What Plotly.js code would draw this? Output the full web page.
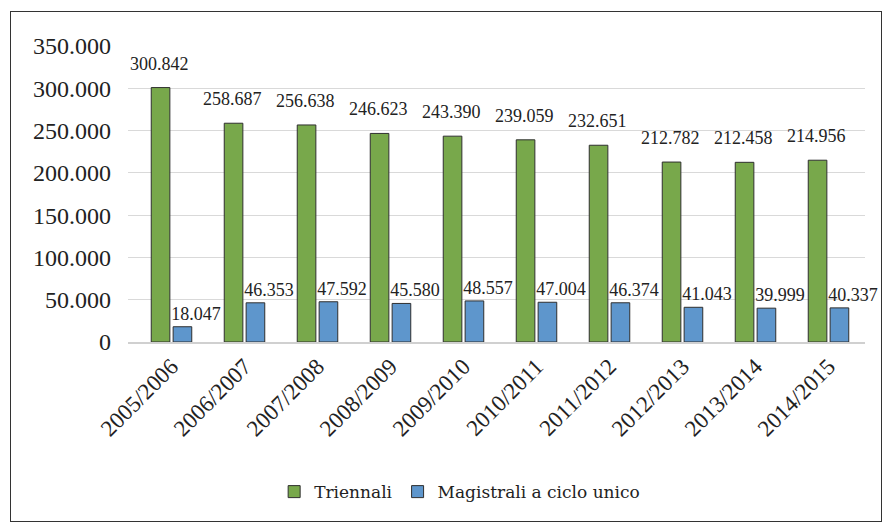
<!DOCTYPE html>
<html><head><meta charset="utf-8">
<script src="https://cdn.plot.ly/plotly-3.0.1.min.js"></script>
<style>
html,body{margin:0;padding:0;background:#fff;}
#wrap{position:absolute;left:0;top:0;width:892px;height:528px;}
#frame{position:absolute;left:10px;top:11px;width:870px;height:509px;border:1.5px solid #333;pointer-events:none;}
#chart{position:absolute;left:0;top:0;width:892px;height:528px;}
</style></head>
<body>
<div id="wrap"><div id="chart"></div><div id="frame"></div></div>
<script>
const categories = ["2005/2006","2006/2007","2007/2008","2008/2009","2009/2010","2010/2011","2011/2012","2012/2013","2013/2014","2014/2015"];
const triennali = [300842,258687,256638,246623,243390,239059,232651,212782,212458,214956];
const magistrali = [18047,46353,47592,45580,48557,47004,46374,41043,39999,40337];
const seriesNames = ["Triennali","Magistrali a ciclo unico"];
const tickVals = [0,50000,100000,150000,200000,250000,300000,350000];

const fmt = v => v.toLocaleString('de-DE');
const serif = "'Liberation Serif'";
const serifA = "Liberation Serif";

const traces = [
  {type:'bar', name:seriesNames[0], x:categories, y:triennali,
   marker:{color:'#78a84b', line:{color:'#2f2f2f', width:1}}},
  {type:'bar', name:seriesNames[1], x:categories, y:magistrali,
   text:magistrali.map(v => '\u2007\u2007\u2007' + fmt(v)), textposition:'outside', constraintext:'none', cliponaxis:false,
   textfont:{family:serif, size:18, color:'#222'},
   marker:{color:'#5e96cc', line:{color:'#2f2f2f', width:1}}}
];

const annotations = [];
categories.forEach((c,i)=>{
  annotations.push({x:c, y:triennali[i], xref:'x', yref:'y', text:fmt(triennali[i]), showarrow:false,
    xshift:-12, yshift:12, yanchor:'bottom', font:{family:serifA, size:18, color:'#222'}});
});

const layout = {
  width:892, height:528,
  margin:{l:128, r:27, t:46, b:186},
  paper_bgcolor:'rgba(0,0,0,0)', plot_bgcolor:'rgba(0,0,0,0)',
  separators:',.',
  barmode:'group', bargap:0.4, bargroupgap:0.15,
  font:{family:serif, color:'#222'},
  xaxis:{type:'category', tickangle:-45, tickfont:{family:serif, size:23, color:'#222'},
    showline:true, linecolor:'#d0d0d0', linewidth:2, ticks:'', showgrid:false},
  yaxis:{range:[0,350000], tickvals:tickVals, tickformat:',d', tickfont:{family:serif, size:24, color:'#222'},
    showgrid:true, gridcolor:'#d9d9d9', gridwidth:1, zeroline:false, showline:false, ticks:'', ticklabelstandoff:16},
  showlegend:true,
  legend:{orientation:'h', x:0.45, xanchor:'center', y:-0.507, yanchor:'middle',
    font:{family:'DejaVu Serif', size:17, color:'#222'}, itemwidth:30, traceorder:'normal'},
  annotations:annotations
};
Plotly.newPlot('chart', traces, layout, {displayModeBar:false, staticPlot:true});
</script>
</body></html>
